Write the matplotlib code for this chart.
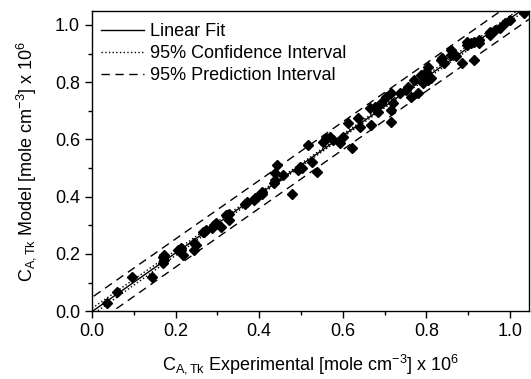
import numpy as np
import matplotlib
matplotlib.use('Agg')
import matplotlib.pyplot as plt
from matplotlib.ticker import MultipleLocator

plt.rcParams['font.family'] = ['Liberation Sans', 'DejaVu Sans']
plt.rcParams['mathtext.fontset'] = 'custom'
plt.rcParams['mathtext.rm'] = 'Liberation Sans'
plt.rcParams['mathtext.it'] = 'Liberation Sans:italic'

# experimental vs model concentrations (x 10^6 mole cm^-3)
c_exp = [0.036, 0.059, 0.095, 0.143, 0.170, 0.170, 0.173, 0.173, 0.206, 0.213,
         0.217, 0.214, 0.245, 0.245, 0.249, 0.265, 0.268, 0.273, 0.288, 0.293,
         0.296, 0.308, 0.324, 0.328, 0.320, 0.328, 0.367, 0.371, 0.387, 0.391,
         0.395, 0.407, 0.407, 0.435, 0.439, 0.442, 0.439, 0.458, 0.478, 0.494,
         0.498, 0.502, 0.526, 0.538, 0.518, 0.553, 0.561, 0.569, 0.577, 0.593,
         0.601, 0.621, 0.613, 0.637, 0.641, 0.668, 0.664, 0.676, 0.684, 0.692,
         0.704, 0.716, 0.716, 0.716, 0.720, 0.736, 0.751, 0.755, 0.763, 0.779,
         0.771, 0.787, 0.799, 0.795, 0.803, 0.811, 0.791, 0.803, 0.834, 0.838,
         0.842, 0.858, 0.858, 0.870, 0.886, 0.898, 0.898, 0.906, 0.914, 0.914,
         0.926, 0.926, 0.953, 0.953, 0.965, 0.977, 0.989, 1.000, 1.033]
c_model = [0.027, 0.068, 0.120, 0.120, 0.167, 0.190, 0.196, 0.178, 0.213, 0.213,
           0.196, 0.220, 0.237, 0.213, 0.230, 0.277, 0.277, 0.283, 0.289, 0.300,
           0.307, 0.295, 0.336, 0.318, 0.336, 0.340, 0.376, 0.382, 0.388, 0.394,
           0.400, 0.411, 0.417, 0.446, 0.458, 0.510, 0.481, 0.476, 0.411, 0.493,
           0.505, 0.500, 0.522, 0.487, 0.580, 0.592, 0.604, 0.610, 0.598, 0.586,
           0.610, 0.569, 0.656, 0.674, 0.644, 0.650, 0.709, 0.714, 0.697, 0.726,
           0.749, 0.703, 0.662, 0.761, 0.726, 0.761, 0.773, 0.784, 0.749, 0.761,
           0.808, 0.825, 0.837, 0.820, 0.808, 0.814, 0.796, 0.854, 0.878, 0.884,
           0.866, 0.895, 0.913, 0.890, 0.866, 0.930, 0.942, 0.936, 0.878, 0.942,
           0.936, 0.948, 0.965, 0.977, 0.983, 0.988, 1.006, 1.017, 1.041]

x = np.array(c_exp)
y = np.array(c_model)
n = len(x)

# linear regression with 95% confidence / prediction bands
slope, intercept = np.polyfit(x, y, 1)
resid = y - (intercept + slope * x)
s = np.sqrt(np.sum(resid ** 2) / (n - 2))
t = 1.985
xx = np.linspace(-0.05, 1.1, 200)
yy = intercept + slope * xx
se_fit = s * np.sqrt(1.0 / n + (xx - x.mean()) ** 2 / np.sum((x - x.mean()) ** 2))
se_pred = np.sqrt(s ** 2 + se_fit ** 2)

fig = plt.figure(figsize=(5.31, 3.79), dpi=100)
ax = fig.add_axes([0.173, 0.179, 0.823, 0.793])

ax.plot(x, y, 'D', color='black', markersize=5.2, zorder=3)
ax.plot(xx, yy, '-', color='black', lw=1.0, label='Linear Fit')
ax.plot(xx, yy + t * se_fit, ':', color='black', lw=1.0, label='95% Confidence Interval')
ax.plot(xx, yy - t * se_fit, ':', color='black', lw=1.0)
ax.plot(xx, yy + t * se_pred, '--', color='black', lw=1.0, dashes=(6, 4),
        label='95% Prediction Interval')
ax.plot(xx, yy - t * se_pred, '--', color='black', lw=1.0, dashes=(6, 4))

ax.set_xlim(0, 1.045)
ax.set_ylim(0, 1.05)
ax.xaxis.set_major_locator(MultipleLocator(0.2))
ax.xaxis.set_minor_locator(MultipleLocator(0.1))
ax.yaxis.set_major_locator(MultipleLocator(0.2))
ax.yaxis.set_minor_locator(MultipleLocator(0.1))
ax.xaxis.set_major_formatter(plt.FuncFormatter(lambda v, p: '%.1f' % v))
ax.yaxis.set_major_formatter(plt.FuncFormatter(lambda v, p: '%.1f' % v))
ax.tick_params(which='both', direction='out', top=False, right=False,
               labelsize=13, width=1.0, color='black')
ax.tick_params(which='major', length=5)
ax.tick_params(which='minor', length=3)
for sp in ax.spines.values():
    sp.set_linewidth(1.0)

ax.set_xlabel(r'C$_{\mathrm{A,Tk}}$ Experimental [mole cm$^{\mathrm{-3}}$] x 10$^{\mathrm{6}}$',
              fontsize=13, labelpad=9)
ax.set_ylabel(r'C$_{\mathrm{A,Tk}}$ Model [mole cm$^{\mathrm{-3}}$] x 10$^{\mathrm{6}}$',
              fontsize=13, labelpad=12)

ax.legend(loc='upper left', bbox_to_anchor=(-0.008, 1.0), frameon=False,
          fontsize=13, handlelength=2.4, handletextpad=0.3, labelspacing=0.28,
          borderaxespad=0.5, borderpad=0.2)

fig.savefig('out.png', dpi=100)
